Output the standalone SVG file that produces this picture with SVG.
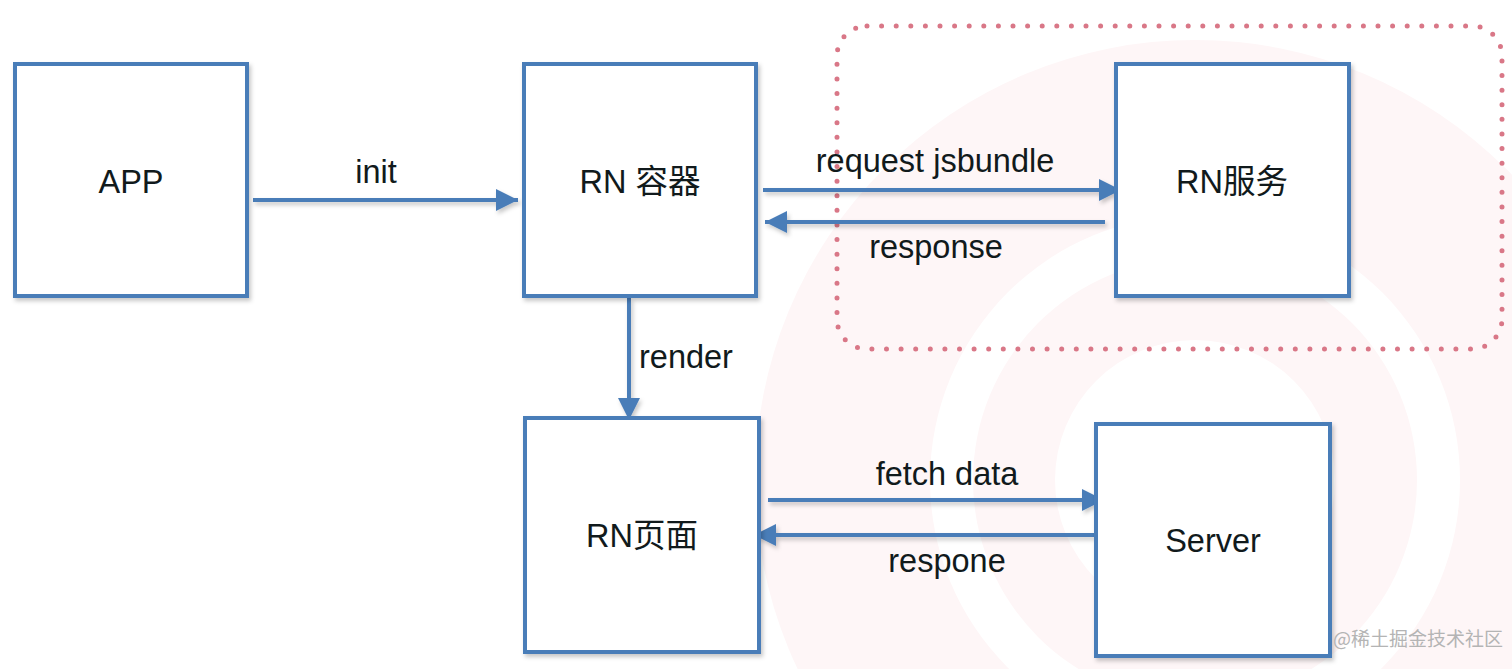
<svg xmlns="http://www.w3.org/2000/svg" width="1512" height="669" viewBox="0 0 1512 669">
  <defs>
    <style>
      .box { fill: #ffffff; stroke: #4a7db8; stroke-width: 4; }
      .lbl { font-family: "Liberation Sans", "Noto Sans CJK SC", Arial, sans-serif; font-size: 32.5px; fill: #111a1c; text-anchor: middle; }
      .edge { fill: none; stroke: #4a7db8; stroke-width: 4; }
      .dots { fill: none; stroke: #d97787; stroke-width: 5; stroke-linecap: round; stroke-dasharray: 0 14.6; }
      .wm { font-family: "Noto Sans CJK SC", "Liberation Sans", sans-serif; font-size: 19px; fill: #b4b4b4; }
    </style>
    <filter id="sh" x="-10%" y="-10%" width="130%" height="130%">
      <feDropShadow dx="2" dy="3" stdDeviation="2" flood-color="#000" flood-opacity="0.22"/>
    </filter>
    <marker id="ah" markerUnits="userSpaceOnUse" markerWidth="22" markerHeight="22" refX="22" refY="11" orient="auto">
      <path d="M0,0 L22,11 L0,22 z" fill="#4a7db8"/>
    </marker>
  </defs>

  <rect width="1512" height="669" fill="#ffffff"/>

  <!-- faint background watermark rings -->
  <g id="bg-logo">
    <circle cx="1195" cy="480" r="440" fill="#fef6f7"/>
    <circle cx="1195" cy="480" r="265" fill="#ffffff"/>
    <circle cx="1195" cy="480" r="222" fill="#fef6f7"/>
    <circle cx="1195" cy="480" r="140" fill="#ffffff"/>
  </g>

  <!-- dotted group boundary -->
  <g id="group-rn-service">
    <rect class="dots" x="837" y="26" width="665" height="323" rx="30" ry="30"/>
  </g>

  <g id="connectors" filter="url(#sh)">
    <line class="edge" x1="253" y1="200" x2="518" y2="200" marker-end="url(#ah)"/>
    <line class="edge" x1="763" y1="190" x2="1121" y2="190" marker-end="url(#ah)"/>
    <line class="edge" x1="1105" y1="222" x2="765" y2="222" marker-end="url(#ah)"/>
    <line class="edge" x1="629" y1="298" x2="629" y2="420" marker-end="url(#ah)"/>
    <line class="edge" x1="768" y1="500" x2="1104" y2="500" marker-end="url(#ah)"/>
    <line class="edge" x1="1094" y1="535" x2="754" y2="535" marker-end="url(#ah)"/>
  </g>

  <g id="edge-labels">
    <text class="lbl" x="376" y="183">init</text>
    <text class="lbl" x="935" y="172">request jsbundle</text>
    <text class="lbl" x="936" y="258">response</text>
    <text class="lbl" x="639" y="368" style="text-anchor:start">render</text>
    <text class="lbl" x="947" y="485">fetch data</text>
    <text class="lbl" x="947" y="572">respone</text>
  </g>

  <g id="node-app">
    <rect class="box" x="15" y="64" width="232" height="232" filter="url(#sh)"/>
    <text class="lbl" x="131" y="193">APP</text>
  </g>
  <g id="node-rn-container">
    <rect class="box" x="524" y="64" width="232" height="232" filter="url(#sh)"/>
    <text class="lbl" x="640" y="193">RN 容器</text>
  </g>
  <g id="node-rn-service">
    <rect class="box" x="1116" y="64" width="233" height="232" filter="url(#sh)"/>
    <text class="lbl" x="1232" y="193">RN服务</text>
  </g>
  <g id="node-rn-page">
    <rect class="box" x="525" y="418" width="234" height="234" filter="url(#sh)"/>
    <text class="lbl" x="642" y="547">RN页面</text>
  </g>
  <g id="node-server">
    <rect class="box" x="1096" y="424" width="234" height="232" filter="url(#sh)"/>
    <text class="lbl" x="1213" y="552">Server</text>
  </g>

  <text class="wm" x="1333" y="646">@稀土掘金技术社区</text>
</svg>
